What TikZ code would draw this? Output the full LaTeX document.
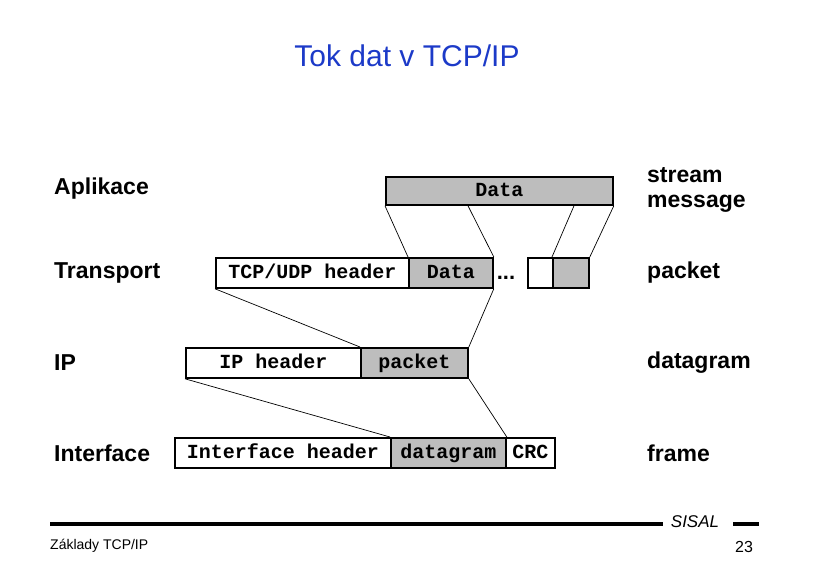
\documentclass[tikz,border=0pt]{standalone}
\usepackage{fontspec}
\setmainfont{Liberation Sans}
\setmonofont{Liberation Mono}
\usetikzlibrary{calc}
\definecolor{titleblue}{RGB}{28,58,200}
\definecolor{shade}{gray}{0.74}
\begin{document}
\begin{tikzpicture}[x=1pt,y=-1pt,
  cell/.style={draw=black,line width=1.8pt,minimum height=30pt,inner sep=0pt,
    text height=13pt,text depth=1pt,
    font=\fontsize{20}{20}\selectfont\ttfamily\bfseries,anchor=north west},
  plain/.style={cell,fill=white},
  shaded/.style={cell,fill=shade},
  conn/.style={line width=0.7pt},
  layer/.style={font=\fontsize{23}{23}\selectfont\bfseries,anchor=west,inner sep=0pt},
  unit/.style={font=\fontsize{23}{25}\selectfont\bfseries,anchor=west,align=left,inner sep=0pt}]
\useasboundingbox (0,0) rectangle (813,570);
\node[font=\fontsize{30}{30}\selectfont,text=titleblue] (title) at (407,56) {Tok dat v TCP/IP};
% layer labels
\node[layer] (lapp) at (54,189) {Aplikace};
\node[layer] (ltr) at (54,273) {Transport};
\node[layer] (lip) at (54,363) {IP};
\node[layer] (lif) at (54,453) {Interface};
% unit labels
\node[unit] (ustream) at (647,190) {stream\\message};
\node[unit] (upacket) at (647,273) {packet};
\node[unit] (udgram) at (647,363) {datagram};
\node[unit] (uframe) at (647,453) {frame};
% application
\node[shaded,minimum width=227pt,minimum height=28pt] (data) at (385,176) {Data};
% transport
\node[plain,minimum width=193pt] (tcph) at (215,257) {TCP/UDP header};
\node[shaded,minimum width=84pt] (tdata) at (408,257) {Data};
\node[font=\fontsize{22}{22}\selectfont\bfseries] (dots) at (506,278) {...};
\node[plain,minimum width=25pt] (s1) at (527,257) {};
\node[shaded,minimum width=36pt] (s2) at (552,257) {};
% ip
\node[plain,minimum width=175pt] (iph) at (185,347) {IP header};
\node[shaded,minimum width=107pt] (ipp) at (360,347) {packet};
% interface
\node[plain,minimum width=216pt] (ifh) at (174,437) {Interface header};
\node[shaded,minimum width=115pt] (ifd) at (390,437) {datagram};
\node[plain,minimum width=49pt] (crc) at (505,437) {CRC};
% connectors
\coordinate (dsplit) at ($(data.south west)+(83,0)$);
\coordinate (dsplit2) at ($(data.south west)+(189,0)$);
\draw[conn] (data.south west) -- (tdata.north west);
\draw[conn] (dsplit) -- (tdata.north east);
\draw[conn] (dsplit2) -- (s2.north west);
\draw[conn] (data.south east) -- (s2.north east);
\draw[conn] (tcph.south west) -- (ipp.north west);
\draw[conn] (tdata.south east) -- (ipp.north east);
\draw[conn] (iph.south west) -- (ifd.north west);
\draw[conn] (ipp.south east) -- (ifd.north east);
% footer
\coordinate (fl1) at (50,524);
\coordinate (fl2) at (663,524);
\coordinate (fl3) at (733,524);
\coordinate (fl4) at (759,524);
\draw[line width=4pt] (fl1) -- (fl2);
\draw[line width=4pt] (fl3) -- (fl4);
\node[font=\fontsize{17}{17}\selectfont\itshape] (sisal) at (695,522) {SISAL};
\node[font=\fontsize{14}{14}\selectfont,anchor=west,inner sep=0pt] (foot) at (50,546) {Základy TCP/IP};
\node[font=\fontsize{16}{16}\selectfont] (page) at (744,547) {23};
\end{tikzpicture}
\end{document}
